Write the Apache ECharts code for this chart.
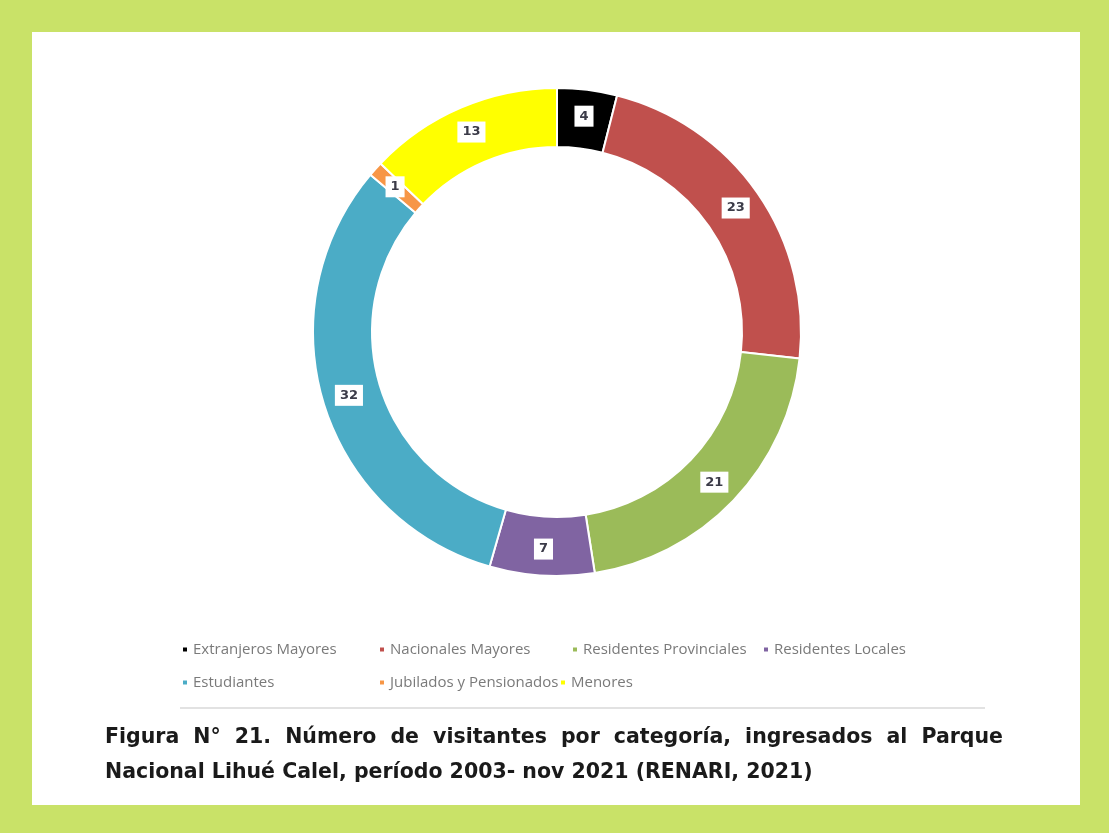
<!DOCTYPE html>
<html>
<head>
<meta charset="utf-8">
<title>Visitantes por categoría</title>
<script src="https://cdn.jsdelivr.net/npm/echarts@6/dist/echarts.min.js"></script>
<style>
  html, body { margin: 0; padding: 0; background: #c9e268; }
  #chart { width: 1109px; height: 833px; }
</style>
</head>
<body>
<div id="chart"></div>
<script>
// datos de la figura
const categories = [
  'Extranjeros Mayores', 'Nacionales Mayores', 'Residentes Provinciales',
  'Residentes Locales', 'Estudiantes', 'Jubilados y Pensionados', 'Menores'
];
const visitors = [4, 23, 21, 7, 32, 1, 13];
const sliceColors = ['#000000', '#c0504d', '#9bbb59', '#8064a2', '#4bacc6', '#f79646', '#ffff00'];
const captionLines = [
  'Figura N° 21. Número de visitantes por categoría, ingresados al Parque',
  'Nacional Lihué Calel, período 2003- nov 2021 (RENARI, 2021)'
];

// posiciones de la leyenda (dos filas, como en el original)
const legendLeft = [176, 373, 566, 757, 176, 373, 554];
const legendTop = [637, 637, 637, 637, 670, 670, 670];

const CAPTION_FONT = 'bold 20.5px "DejaVu Sans", sans-serif';

// reparte las palabras entre left y right (texto justificado)
function justified(text, left, right, y, justify) {
  const ctx = document.createElement('canvas').getContext('2d');
  ctx.font = CAPTION_FONT;
  const words = text.split(' ');
  const widths = words.map(w => ctx.measureText(w).width);
  const space = ctx.measureText(' ').width;
  const total = widths.reduce((a, b) => a + b, 0);
  const gap = justify ? (right - left - total) / (words.length - 1) : space;
  let x = left;
  return words.map((w, i) => {
    const el = {
      type: 'text', left: x, top: y,
      style: { text: w, font: CAPTION_FONT, fill: '#1a1a1a' }
    };
    x += widths[i] + gap;
    return el;
  });
}

const chart = echarts.init(document.getElementById('chart'));

chart.setOption({
  backgroundColor: '#c9e268',
  animation: false,
  graphic: [
    { type: 'rect', left: 32, top: 32, shape: { width: 1048, height: 773 }, style: { fill: '#ffffff' }, z: -10 },
    { type: 'rect', left: 180, top: 707, shape: { width: 805, height: 2 }, style: { fill: '#e2e2e2' } },
    ...justified(captionLines[0], 105, 1003, 727, true),
    ...justified(captionLines[1], 105, 1003, 762, false)
  ],
  legend: categories.map((name, i) => ({
    data: [name],
    left: legendLeft[i],
    top: legendTop[i],
    icon: 'rect',
    itemWidth: 6,
    itemHeight: 6,
    itemGap: 4,
    selectedMode: false,
    textStyle: { color: '#7a7a7a', fontSize: 15, fontFamily: 'Open Sans', padding: [0, 0, 0, 0] }
  })),
  series: [{
    type: 'pie',
    center: [557, 332],
    radius: [185, 244],
    startAngle: 90,
    clockwise: true,
    avoidLabelOverlap: false,
    itemStyle: { borderColor: '#ffffff', borderWidth: 2 },
    label: {
      show: true,
      position: 'inside',
      formatter: '{c}',
      backgroundColor: '#ffffff',
      padding: [4, 5],
      color: '#3b3b48',
      fontWeight: 'bold',
      fontSize: 13,
      fontFamily: 'DejaVu Sans'
    },
    labelLine: { show: false },
    data: categories.map((name, i) => ({
      name,
      value: visitors[i],
      itemStyle: { color: sliceColors[i] }
    }))
  }]
});
</script>
</body>
</html>
